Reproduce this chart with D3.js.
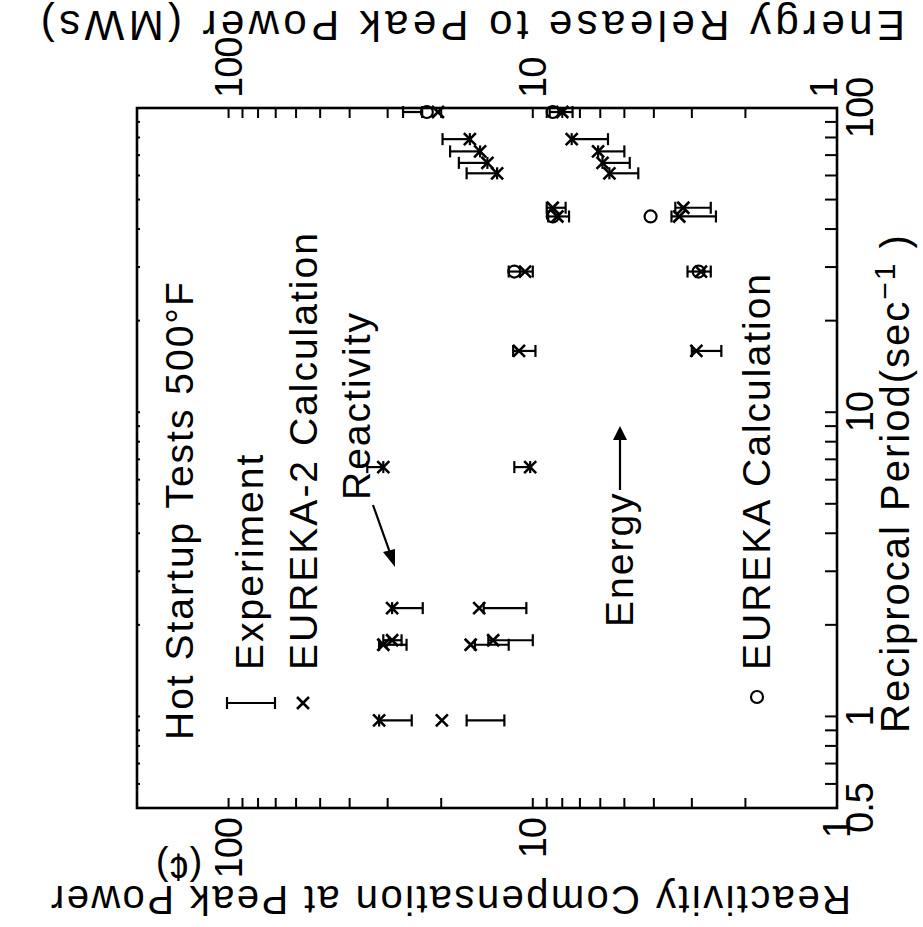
<!DOCTYPE html>
<html><head><meta charset="utf-8">
<script src="https://cdn.jsdelivr.net/npm/d3@7"></script>
<style>
html,body{margin:0;padding:0;background:#fff;}
svg text{font-family:"Liberation Sans",Arial,sans-serif;fill:#000;}
</style></head>
<body><svg id="c" width="923" height="927"></svg>
<script>
// ---------- data ----------
// reciprocal period (1/s) of each test
const period      = [0.97, 1.72, 1.78, 2.27, 6.6, 15.9, 29, 44, 47, 61, 66, 72, 79, 97];
// reactivity compensation at peak power (cents)
const reactExpLo  = [25, 26, 27, 23, 31, 9.8, 10, 7.6, 7.8, 13.1, 14.1, 14.9, 16.1, 23.1];
const reactExpHi  = [32, 32, 31, 29, 35, 11.6, 12, 8.9, 9.0, 16.5, 17.5, 18.7, 19.8, 26.7];
const reactCalc   = [32, 31, 29, 29, 31, 11.1, 10.6, 8.3, 8.6, 13.1, 14.1, 14.9, 16.1, 20.5];
const reactEureka = [null, null, null, null, null, null, 11.5, 8.6, null, null, null, null, null, 22.3];
// energy release to peak power (MWs)
const energyExpLo  = [12.4, 12, 10, 10.5, 10.2, 2.4, 2.6, 2.5, 2.6, 4.5, 4.8, 5.0, 5.66, 7.4];
const energyExpHi  = [16.5, 15.5, 14, 14.5, 11.5, 3.0, 3.1, 3.5, 3.4, 5.6, 5.9, 6.1, 7.45, 8.8];
const energyCalc   = [19.9, 16, 13.5, 15, 10.2, 2.9, 2.8, 3.3, 3.2, 5.6, 5.9, 6.1, 7.45, 8.0];
const energyEureka = [null, null, null, null, null, null, 2.85, 4.1, null, null, null, null, null, 8.6];

const periodTicks = [0.5,0.6,0.7,0.8,0.9,1,2,3,4,5,6,7,8,9,10,20,30,40,50,60,70,80,90,100];
const periodLabels = {0.5:"0.5", 1:"1", 10:"10", 100:"100"};
const valueTicks = [1,2,3,4,5,6,7,8,9,10,20,30,40,50,60,70,80,90,100,200];
const valueLabels = {1:"1", 10:"10", 100:"100"};

// ---------- drawing ----------
const W = 700, H = 700;
const svg = d3.select("#c");
// the figure is drawn upright, then turned a quarter turn counter-clockwise
const g = svg.append("g").attr("transform","translate(137,808) rotate(-90)");

const x = d3.scaleLog().domain([0.5,100]).range([0,W]);
const y = d3.scaleLog().domain([1,200]).range([H,0]);

g.append("rect").attr("x",0).attr("y",0).attr("width",W).attr("height",H)
  .attr("fill","none").attr("stroke","#000").attr("stroke-width",2.6);

const tickStyle = s => s.attr("stroke","#000").attr("stroke-width",2);
periodTicks.forEach(t=>{
  tickStyle(g.append("line").attr("x1",x(t)).attr("x2",x(t)).attr("y1",H).attr("y2",H-12));
  tickStyle(g.append("line").attr("x1",x(t)).attr("x2",x(t)).attr("y1",0).attr("y2",3));
});
valueTicks.forEach(t=>{
  tickStyle(g.append("line").attr("x1",0).attr("x2",10).attr("y1",y(t)).attr("y2",y(t)));
  tickStyle(g.append("line").attr("x1",W).attr("x2",W-10).attr("y1",y(t)).attr("y2",y(t)));
});
Object.keys(periodLabels).forEach(k=>{
  g.append("text").attr("x",x(+k)).attr("y",H+36).attr("text-anchor","middle")
    .attr("font-size",38).attr("letter-spacing",-1).text(periodLabels[k]);
});
Object.keys(valueLabels).forEach(k=>{
  g.append("text").attr("x",-10).attr("y",y(+k)+13).attr("text-anchor","end")
    .attr("font-size",38).attr("letter-spacing",-1).text(valueLabels[k]);
  g.append("text").attr("x",W+10).attr("y",y(+k)+13-(k==="1"?13:0)).attr("text-anchor","start")
    .attr("font-size",38).attr("letter-spacing",-1).text(valueLabels[k]);
});
// axis titles
const xt = g.append("text").attr("x",75).attr("y",H+72).attr("font-size",40).attr("letter-spacing",2);
xt.append("tspan").text("Reciprocal  Period(sec");
xt.append("tspan").attr("dy",-14).attr("font-size",30).text("−1");
xt.append("tspan").attr("dy",14).text(" )");

g.append("text").attr("transform",`translate(-78,714) rotate(-90)`)
  .attr("font-size",40).attr("letter-spacing",2.4).text("Reactivity Compensation at Peak Power");
g.append("text").attr("transform",`translate(-46,42) rotate(-90)`).attr("text-anchor","middle")
  .attr("font-size",38).text("(¢)");
g.append("text").attr("transform",`translate(797,768) rotate(-90)`)
  .attr("font-size",42).attr("letter-spacing",4.4).text("Energy Release to Peak Power (MWs)");

// marks
function errBar(px, lo, hi){
  const X = x(px);
  g.append("line").attr("x1",X).attr("x2",X).attr("y1",y(lo)).attr("y2",y(hi)).attr("stroke","#000").attr("stroke-width",2.2);
  [lo,hi].forEach(v=>g.append("line").attr("x1",X-6).attr("x2",X+6).attr("y1",y(v)).attr("y2",y(v)).attr("stroke","#000").attr("stroke-width",2.2));
}
function cross(px, v){
  const X = x(px), Y = y(v), s = 6;
  g.append("path").attr("d",`M${X-s},${Y-s}L${X+s},${Y+s}M${X-s},${Y+s}L${X+s},${Y-s}`)
    .attr("stroke","#000").attr("stroke-width",2.6).attr("fill","none");
}
function circ(px, v){
  g.append("circle").attr("cx",x(px)).attr("cy",y(v)).attr("r",6)
    .attr("fill","none").attr("stroke","#000").attr("stroke-width",2.2);
}
period.forEach((p,i)=>{
  errBar(p, reactExpLo[i], reactExpHi[i]);
  errBar(p, energyExpLo[i], energyExpHi[i]);
  cross(p, reactCalc[i]);
  cross(p, energyCalc[i]);
  if (reactEureka[i]!=null) circ(p, reactEureka[i]);
  if (energyEureka[i]!=null) circ(p, energyEureka[i]);
});

// legend
const lt = (xx,yy,t)=>g.append("text").attr("x",xx).attr("y",yy).attr("font-size",39).attr("letter-spacing",2).text(t);
lt(68,56,"Hot Startup Tests 500°F");
g.append("line").attr("x1",105).attr("x2",105).attr("y1",90).attr("y2",138).attr("stroke","#000").attr("stroke-width",2.2);
[90,138].forEach(v=>g.append("line").attr("x1",99).attr("x2",111).attr("y1",v).attr("y2",v).attr("stroke","#000").attr("stroke-width",2.2));
lt(138,126,"Experiment");
g.append("path").attr("d","M99,160L111,172M99,172L111,160").attr("stroke","#000").attr("stroke-width",2.6);
lt(138,180,"EUREKA-2 Calculation");
g.append("circle").attr("cx",111).attr("cy",620).attr("r",6).attr("fill","none").attr("stroke","#000").attr("stroke-width",2.2);
lt(138,633,"EUREKA Calculation");

// annotations
lt(308,233,"Reactivity");
g.append("line").attr("x1",303).attr("y1",236).attr("x2",244).attr("y2",257).attr("stroke","#000").attr("stroke-width",2.2);
g.append("path").attr("d","M241,258L256,246L259,258Z").attr("fill","#000");
lt(181,496,"Energy");
g.append("line").attr("x1",318).attr("y1",483).attr("x2",378).attr("y2",483).attr("stroke","#000").attr("stroke-width",2.2);
g.append("path").attr("d","M382,483L368,476L368,490Z").attr("fill","#000");
</script></body></html>
